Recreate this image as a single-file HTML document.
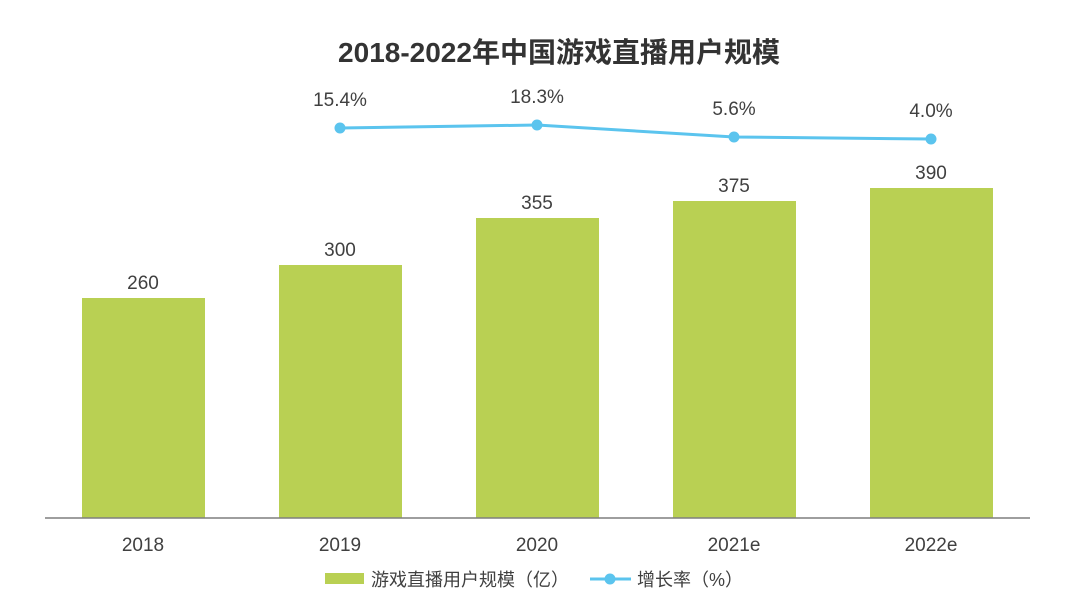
<!DOCTYPE html>
<html><head><meta charset="utf-8"><style>
body{margin:0;background:#fff;}
svg text{font-family:"Liberation Sans","Noto Sans CJK SC",sans-serif;fill:#404040;}
</style></head><body>
<svg width="1080" height="608" xmlns="http://www.w3.org/2000/svg">
<text x="559" y="62" text-anchor="middle" font-size="28" font-weight="bold" style="fill:#333">2018-2022年中国游戏直播用户规模</text>
<g fill="#b9d053">
<rect x="82" y="298" width="123" height="220"/>
<rect x="279" y="265" width="123" height="253"/>
<rect x="476" y="218" width="123" height="300"/>
<rect x="673" y="201" width="123" height="317"/>
<rect x="870" y="188" width="123" height="330"/>
</g>
<line x1="45" y1="518" x2="1030" y2="518" stroke="#7f7f7f" stroke-width="1.5"/>
<g font-size="19" text-anchor="middle">
<text x="143" y="289">260</text>
<text x="340" y="256">300</text>
<text x="537" y="209">355</text>
<text x="734" y="192">375</text>
<text x="931" y="179">390</text>
<text x="340" y="106">15.4%</text>
<text x="537" y="103">18.3%</text>
<text x="734" y="115">5.6%</text>
<text x="931" y="117">4.0%</text>
<text x="143" y="551">2018</text>
<text x="340" y="551">2019</text>
<text x="537" y="551">2020</text>
<text x="734" y="551">2021e</text>
<text x="931" y="551">2022e</text>
</g>
<polyline points="340,128 537,125 734,137 931,139" fill="none" stroke="#5bc4ee" stroke-width="3"/>
<g fill="#5bc4ee">
<circle cx="340" cy="128" r="5.5"/><circle cx="537" cy="125" r="5.5"/><circle cx="734" cy="137" r="5.5"/><circle cx="931" cy="139" r="5.5"/>
</g>
<rect x="325" y="573" width="39" height="11" fill="#b9d053"/>
<text x="371" y="586" font-size="18">游戏直播用户规模（亿）</text>
<line x1="590" y1="579" x2="631" y2="579" stroke="#5bc4ee" stroke-width="3"/>
<circle cx="610" cy="579" r="5.5" fill="#5bc4ee"/>
<text x="637" y="586" font-size="18">增长率（%）</text>
</svg>
</body></html>
